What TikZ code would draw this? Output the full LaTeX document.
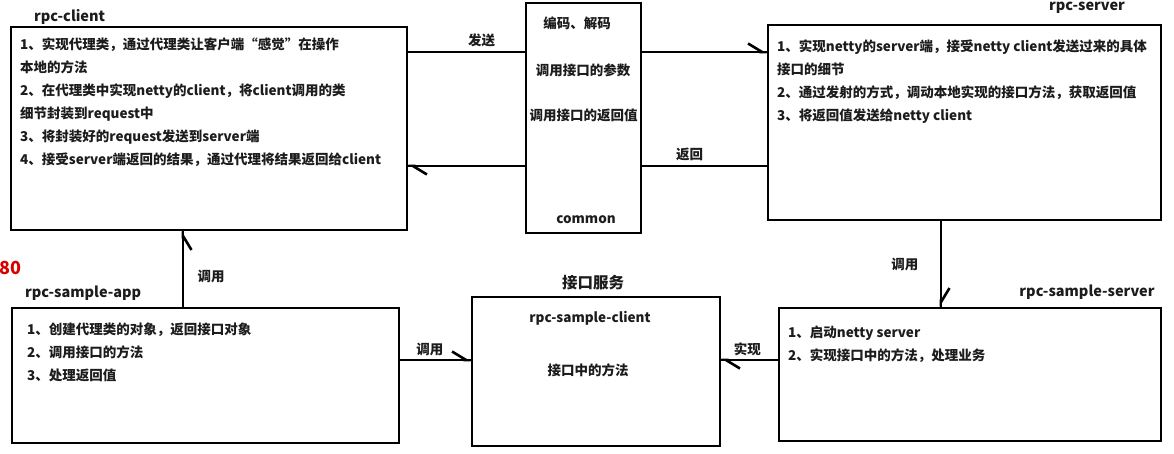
\documentclass[tikz,border=0pt]{standalone}
\usepackage{fontspec}
\setmainfont{Noto Sans CJK SC}
\usetikzlibrary{arrows.meta}
\definecolor{ink}{RGB}{28,28,28}
\begin{document}
\begin{tikzpicture}[x=1pt,y=-1pt,
	box/.style={draw,line width=2.6pt,inner sep=0pt},
	txt/.style={text=ink,font=\bfseries\fontsize{13.5}{23}\selectfont,align=left,inner sep=0pt},
	title/.style={text=ink,font=\bfseries\fontsize{14.5}{17}\selectfont,inner sep=0pt},
	lbl/.style={text=ink,font=\bfseries\fontsize{13.5}{16}\selectfont},
	wire/.style={line width=2.6pt},
	arr/.style={wire,postaction={draw,-{Straight Barb[harpoon,length=14pt,width=17pt,line width=2.6pt]}}},
	arrswap/.style={wire,postaction={draw,-{Straight Barb[harpoon,swap,length=14pt,width=17pt,line width=2.6pt]}}}]
			\useasboundingbox (0,0) rectangle (1174,454);
			\fill[white] (0,0) rectangle (1174,454);
			
			% boxes
			\node [box,minimum width=396pt,minimum height=203pt] (client) at (209,128.5) {};
			\node [box,minimum width=115pt,minimum height=230pt] (common) at (583.5,118) {};
			\node [box,minimum width=393pt,minimum height=195pt] (server) at (964.5,122.5) {};
			\node [box,minimum width=387pt,minimum height=135pt] (app) at (205.5,375.5) {};
			\node [box,minimum width=248pt,minimum height=149pt] (sclient) at (596,371.5) {};
			\node [box,minimum width=382pt,minimum height=133pt] (sserver) at (970,374.5) {};
			
			% titles
			\node [title,anchor=west] (clientname) at (34,17) {rpc-client};
			\node [title] (servername) at (1087,8) {rpc-server};
			\node [title,anchor=west] (appname) at (25,293) {rpc-sample-app};
			\node [title] (sservername) at (1087,292) {rpc-sample-server};
			\node [title,font=\bfseries\fontsize{15.5}{18}\selectfont] (sclientname) at (593,283) {接口服务};
			\node [text=red!85!black,font=\bfseries\fontsize{18}{20}\selectfont,anchor=west,inner sep=0pt] (stamp) at (-1,268) {80};
			
			% texts in the boxes
			\node [txt,anchor=north west] (clienttxt) at (20,38) {1、实现代理类，通过代理类让客户端“感觉”在操作\\本地的方法\\2、在代理类中实现netty的client，将client调用的类\\细节封装到request中\\3、将封装好的request发送到server端\\4、接受server端返回的结果，通过代理将结果返回给client};
			\node [txt,anchor=north west] (servertxt) at (777,40) {1、实现netty的server端，接受netty client发送过来的具体\\接口的细节\\2、通过发射的方式，调动本地实现的接口方法，获取返回值\\3、将返回值发送给netty client};
			\node [txt,anchor=north west] (apptxt) at (27,323) {1、创建代理类的对象，返回接口对象\\2、调用接口的方法\\3、处理返回值};
			\node [txt,anchor=north west] (sservertxt) at (788,326) {1、启动netty server\\2、实现接口中的方法，处理业务};
			\node [txt] (codec) at (577,23) {编码、解码};
			\node [txt] (params) at (583,70) {调用接口的参数};
			\node [txt] (results) at (583.5,115) {调用接口的返回值};
			\node [txt] (commonname) at (586,220) {common};
			\node [txt] (sclienttxt) at (590,318) {rpc-sample-client};
			\node [txt] (methods) at (588,370) {接口中的方法};
			
			% rows and columns of the connectors
			\coordinate (sendrow) at (0,52);
			\coordinate (backrow) at (0,166);
			\coordinate (callrow) at (0,360);
			\coordinate (upcol) at (183,0);
			\coordinate (downcol) at (941,0);
			
			\draw [wire] (client.east |- sendrow) -- node [lbl,above,pos=0.63] {发送} (common.west |- sendrow);
			\draw [arr] (common.east |- sendrow) -- (server.west |- sendrow);
			\draw [wire] (server.west |- backrow) -- node [lbl,above,pos=0.62] {返回} (common.east |- backrow);
			\draw [arr] (common.west |- backrow) -- (client.east |- backrow);
			\draw [arrswap] (app.north -| upcol) -- node [lbl,right=10pt,pos=0.4] {调用} (client.south -| upcol);
			\draw [arr] (server.south -| downcol) -- node [lbl,left=18pt,pos=0.5] {调用} (sserver.north -| downcol);
			\draw [arr] (app.east |- callrow) -- node [lbl,above,pos=0.42] {调用} (sclient.west |- callrow);
			\draw [arr] (sserver.west |- callrow) -- node [lbl,above,pos=0.54] {实现} (sclient.east |- callrow);
		\end{tikzpicture}
\end{document}
